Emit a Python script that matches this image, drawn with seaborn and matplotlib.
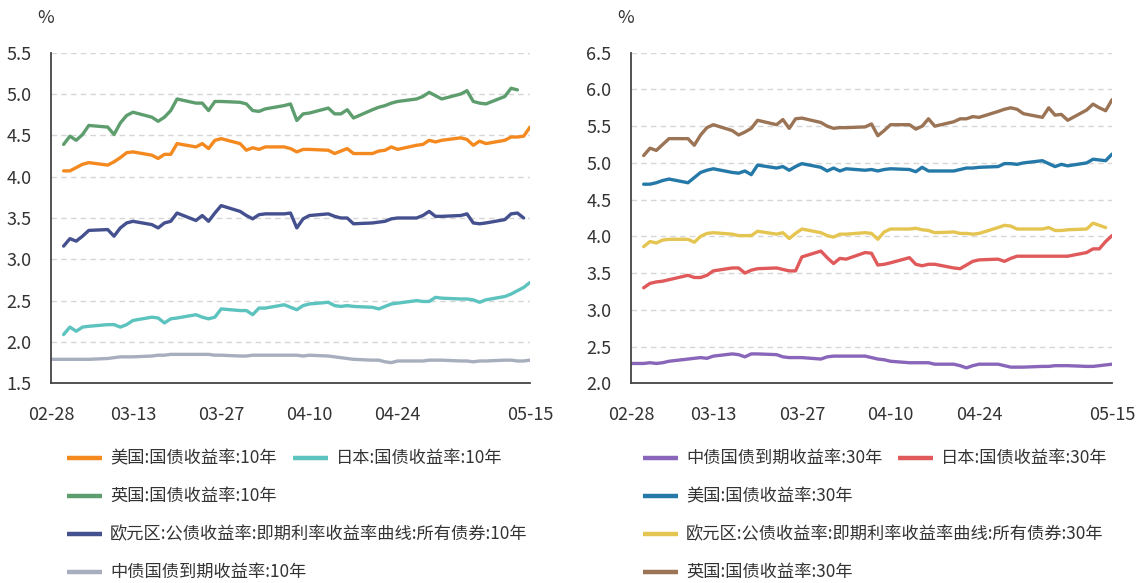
import matplotlib
matplotlib.use("Agg")
import matplotlib.pyplot as plt
from matplotlib.lines import Line2D
from matplotlib.ticker import FormatStrFormatter
import numpy as np
import pandas as pd
import seaborn as sns

sns.set_theme(style="white")
plt.rcParams['font.family'] = ['Noto Sans CJK SC', 'DejaVu Sans']
plt.rcParams['axes.unicode_minus'] = False

YEAR = "2026"
dates_md = ["02-28",
    "03-02", "03-03", "03-04", "03-05", "03-06",
    "03-09", "03-10", "03-11", "03-12", "03-13",
    "03-16", "03-17", "03-18", "03-19", "03-20",
    "03-23", "03-24", "03-25", "03-26", "03-27",
    "03-30", "03-31", "04-01", "04-02", "04-03",
    "04-06", "04-07", "04-08", "04-09", "04-10",
    "04-13", "04-14", "04-15", "04-16", "04-17",
    "04-20", "04-21", "04-22", "04-23", "04-24",
    "04-27", "04-28", "04-29", "04-30", "05-01",
    "05-04", "05-05", "05-06", "05-07", "05-08",
    "05-11", "05-12", "05-13", "05-14", "05-15"]

# ---- left panel: 10-year yields (%) ----
us10 = [None,
    4.07, 4.07, 4.11, 4.15, 4.17,
    4.14, 4.18, 4.23, 4.29, 4.30,
    4.26, 4.22, 4.27, 4.27, 4.40,
    4.36, 4.40, 4.34, 4.44, 4.46,
    4.40, 4.32, 4.35, 4.33, 4.36,
    4.36, 4.34, 4.30, 4.33, 4.33,
    4.32, 4.28, 4.31, 4.34, 4.28,
    4.28, 4.31, 4.32, 4.36, 4.33,
    4.38, 4.39, 4.44, 4.42, 4.44,
    4.47, 4.45, 4.38, 4.43, 4.40,
    4.44, 4.48, 4.48, 4.49, 4.60]
jp10 = [None,
    2.09, 2.18, 2.13, 2.18, 2.19,
    2.21, 2.21, 2.18, 2.21, 2.26,
    2.30, 2.29, 2.23, 2.28, 2.29,
    2.33, 2.30, 2.28, 2.30, 2.40,
    2.38, 2.38, 2.33, 2.41, 2.41,
    2.45, 2.42, 2.39, 2.44, 2.46,
    2.48, 2.44, 2.43, 2.44, 2.43,
    2.42, 2.40, 2.43, 2.46, 2.47,
    2.50, 2.49, 2.49, 2.54, 2.53,
    2.52, 2.52, 2.51, 2.48, 2.51,
    2.55, 2.58, 2.62, 2.66, 2.72]
uk10 = [None,
    4.39, 4.49, 4.44, 4.51, 4.62,
    4.60, 4.51, 4.65, 4.74, 4.78,
    4.72, 4.67, 4.72, 4.80, 4.94,
    4.89, 4.89, 4.80, 4.91, 4.91,
    4.90, 4.88, 4.80, 4.79, 4.82,
    4.86, 4.88, 4.68, 4.76, 4.77,
    4.83, 4.76, 4.76, 4.81, 4.71,
    4.81, 4.84, 4.86, 4.89, 4.91,
    4.94, 4.97, 5.02, 4.98, 4.94,
    5.00, 5.04, 4.91, 4.89, 4.88,
    4.97, 5.07, 5.05, None, None]
eu10 = [None,
    3.16, 3.25, 3.22, 3.28, 3.35,
    3.36, 3.28, 3.38, 3.44, 3.46,
    3.42, 3.38, 3.44, 3.46, 3.56,
    3.47, 3.53, 3.46, 3.56, 3.65,
    3.58, 3.53, 3.49, 3.54, 3.55,
    3.55, 3.56, 3.38, 3.49, 3.53,
    3.55, 3.52, 3.50, 3.50, 3.43,
    3.44, 3.45, 3.46, 3.49, 3.50,
    3.50, 3.53, 3.58, 3.52, 3.52,
    3.53, 3.55, 3.44, 3.43, 3.44,
    3.48, 3.55, 3.56, 3.50, None]
cn10 = [1.79,
    1.79, 1.79, 1.79, 1.79, 1.79,
    1.80, 1.81, 1.82, 1.82, 1.82,
    1.83, 1.84, 1.84, 1.85, 1.85,
    1.85, 1.85, 1.85, 1.84, 1.84,
    1.83, 1.83, 1.84, 1.84, 1.84,
    1.84, 1.84, 1.84, 1.83, 1.84,
    1.83, 1.82, 1.81, 1.80, 1.79,
    1.78, 1.78, 1.76, 1.75, 1.77,
    1.77, 1.77, 1.78, 1.78, 1.78,
    1.77, 1.77, 1.76, 1.77, 1.77,
    1.78, 1.78, 1.77, 1.77, 1.78]

# ---- right panel: 30-year yields (%) ----
cn30 = [2.27,
    2.27, 2.28, 2.27, 2.28, 2.30,
    2.33, 2.34, 2.35, 2.34, 2.37,
    2.40, 2.39, 2.36, 2.40, 2.40,
    2.39, 2.36, 2.35, 2.35, 2.35,
    2.33, 2.36, 2.37, 2.37, 2.37,
    2.37, 2.35, 2.33, 2.32, 2.30,
    2.28, 2.28, 2.28, 2.28, 2.26,
    2.26, 2.24, 2.21, 2.24, 2.26,
    2.26, 2.24, 2.22, 2.22, 2.22,
    2.23, 2.23, 2.24, 2.24, 2.24,
    2.23, 2.23, 2.24, 2.25, 2.26]
jp30 = [None,
    3.30, 3.36, 3.38, 3.39, 3.41,
    3.47, 3.44, 3.44, 3.47, 3.53,
    3.57, 3.57, 3.50, 3.54, 3.56,
    3.57, 3.55, 3.53, 3.53, 3.72,
    3.80, 3.71, 3.63, 3.70, 3.69,
    3.78, 3.77, 3.61, 3.62, 3.64,
    3.71, 3.62, 3.60, 3.62, 3.62,
    3.57, 3.56, 3.61, 3.66, 3.68,
    3.69, 3.66, 3.70, 3.73, 3.73,
    3.73, 3.73, 3.73, 3.73, 3.73,
    3.78, 3.83, 3.83, 3.93, 4.01]
us30 = [None,
    4.71, 4.71, 4.73, 4.76, 4.78,
    4.73, 4.80, 4.87, 4.90, 4.92,
    4.87, 4.86, 4.89, 4.84, 4.97,
    4.93, 4.95, 4.90, 4.95, 4.99,
    4.94, 4.89, 4.93, 4.89, 4.92,
    4.90, 4.91, 4.89, 4.91, 4.92,
    4.91, 4.88, 4.94, 4.89, 4.89,
    4.89, 4.91, 4.93, 4.93, 4.94,
    4.95, 4.99, 4.99, 4.98, 5.00,
    5.03, 4.99, 4.95, 4.98, 4.96,
    5.00, 5.05, 5.04, 5.03, 5.12]
eu30 = [None,
    3.86, 3.93, 3.91, 3.95, 3.96,
    3.96, 3.92, 4.00, 4.04, 4.05,
    4.03, 4.01, 4.01, 4.01, 4.07,
    4.03, 4.05, 3.97, 4.04, 4.10,
    4.05, 4.01, 3.99, 4.03, 4.03,
    4.05, 4.04, 3.96, 4.06, 4.10,
    4.10, 4.11, 4.09, 4.08, 4.05,
    4.06, 4.04, 4.04, 4.03, 4.04,
    4.12, 4.15, 4.14, 4.10, 4.10,
    4.10, 4.12, 4.08, 4.08, 4.09,
    4.10, 4.18, 4.15, 4.12, None]
uk30 = [None,
    5.10, 5.20, 5.17, 5.25, 5.33,
    5.33, 5.24, 5.38, 5.48, 5.52,
    5.44, 5.38, 5.42, 5.47, 5.58,
    5.52, 5.59, 5.47, 5.60, 5.61,
    5.55, 5.50, 5.47, 5.48, 5.48,
    5.49, 5.53, 5.37, 5.44, 5.52,
    5.52, 5.46, 5.50, 5.60, 5.50,
    5.56, 5.60, 5.60, 5.63, 5.62,
    5.70, 5.73, 5.75, 5.73, 5.67,
    5.62, 5.75, 5.65, 5.66, 5.58,
    5.72, 5.80, 5.75, 5.71, 5.86]

left_names = ["美国:国债收益率:10年", "日本:国债收益率:10年", "英国:国债收益率:10年",
              "欧元区:公债收益率:即期利率收益率曲线:所有债券:10年", "中债国债到期收益率:10年"]
left_values = [us10, jp10, uk10, eu10, cn10]
left_colors = ["#F4891F", "#5CC3BF", "#5E9E6E", "#45508F", "#A7AEBE"]

right_names = ["中债国债到期收益率:30年", "日本:国债收益率:30年", "美国:国债收益率:30年",
               "欧元区:公债收益率:即期利率收益率曲线:所有债券:30年", "英国:国债收益率:30年"]
right_values = [cn30, jp30, us30, eu30, uk30]
right_colors = ["#8A66BA", "#E05A5C", "#2479A8", "#E5C551", "#9B7355"]

tick_md = ["02-28", "03-06", "03-13", "03-20", "03-27", "04-03", "04-10",
           "04-17", "04-24", "05-01", "05-08", "05-15"]
tick_labels = ["02-28", "", "03-13", "", "03-27", "", "04-10", "", "04-24", "", "", "05-15"]

dates = pd.to_datetime([f"{YEAR}-{d}" for d in dates_md])
ticks = pd.to_datetime([f"{YEAR}-{d}" for d in tick_md])


def long_frame(names, values):
    frames = []
    for n, v in zip(names, values):
        frames.append(pd.DataFrame({"date": dates, "value": pd.array(v, dtype="Float64"), "series": n}))
    df = pd.concat(frames, ignore_index=True).dropna()
    df["value"] = df["value"].astype(float)
    return df


W, H = 1146, 583
fig = plt.figure(figsize=(W / 100, H / 100), dpi=100)

def px_axes(x0, x1, ytop, ybot):
    return fig.add_axes([x0 / W, 1 - ybot / H, (x1 - x0) / W, (ybot - ytop) / H])

ax1 = px_axes(51, 530, 52.7, 383.3)
ax2 = px_axes(631, 1112, 52.7, 383.3)

panels = [
    (ax1, left_names, left_values, left_colors, (1.5, 5.5)),
    (ax2, right_names, right_values, right_colors, (2.0, 6.5)),
]

for ax, names, values, colors, ylim in panels:
    df = long_frame(names, values)
    sns.lineplot(data=df, x="date", y="value", hue="series", hue_order=names,
                 palette=dict(zip(names, colors)), linewidth=2.4, estimator=None,
                 legend=False, ax=ax)
    ax.set_xlim(pd.Timestamp(f"{YEAR}-02-28"), pd.Timestamp(f"{YEAR}-05-15"))
    ax.set_ylim(*ylim)
    ax.set_yticks(np.arange(ylim[0], ylim[1] + 0.01, 0.5))
    ax.yaxis.set_major_formatter(FormatStrFormatter("%.1f"))
    ax.set_xticks(ticks)
    ax.set_xticklabels(tick_labels)
    ax.set_xlabel("")
    ax.set_ylabel("")
    ax.grid(False)
    ax.yaxis.grid(True, linestyle=(0, (4, 3)), color="#d6d6d6", linewidth=1.0)
    ax.set_axisbelow(True)
    for s in ["top", "right"]:
        ax.spines[s].set_visible(False)
    for s in ["left", "bottom"]:
        ax.spines[s].set_color("#444444")
        ax.spines[s].set_linewidth(1.3)
    ax.tick_params(axis="y", which="major", direction="out", length=13, width=1.1,
                   color="#444444", labelsize=13, labelcolor="#333333", pad=1)
    ax.tick_params(axis="x", which="major", direction="out", length=13, width=1.1,
                   color="#444444", labelsize=13, labelcolor="#333333", pad=3)
    ax.text(-0.012, 1.105, "%", transform=ax.transAxes, ha="center", va="center",
            fontsize=13, color="#333333")

# flowing legends (pixel positions)
left_leg = [(0, 67, 458), (1, 293, 458), (2, 67, 496), (3, 67, 534), (4, 67, 572)]
right_leg = [(0, 643, 458), (1, 898, 458), (2, 643, 496), (3, 643, 534), (4, 643, 572)]

def draw_legend(items, names, colors):
    for i, x, y in items:
        fy = 1 - y / H
        fig.add_artist(Line2D([x / W, (x + 35) / W], [fy, fy], color=colors[i],
                              linewidth=3.2, solid_capstyle="butt",
                              transform=fig.transFigure))
        fig.text((x + 43) / W, fy, names[i], ha="left", va="center",
                 fontsize=12.4, color="#333333")

draw_legend(left_leg, left_names, left_colors)
draw_legend(right_leg, right_names, right_colors)

fig.savefig("out.png", dpi=100, facecolor="white")
